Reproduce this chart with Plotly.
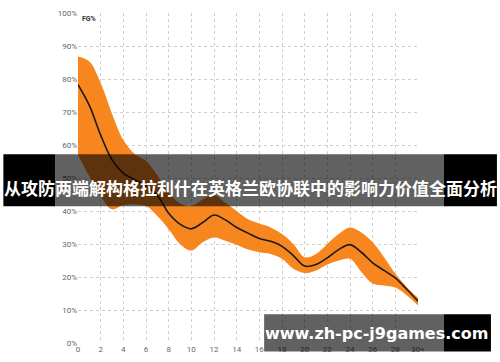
import plotly.graph_objects as go

# ---- data ----
shot_x = list(range(0, 31))
x_tick_vals = list(range(0, 31, 2))
x_tick_text = [str(v) for v in range(0, 29, 2)] + ["30+"]
y_tick_vals = list(range(0, 101, 10))
y_tick_text = [f"{v}%" for v in y_tick_vals]

fg_mean = [78.3, 72.0, 63.0, 55.5, 51.5, 49.5, 47.5, 44.7, 39.3, 36.0,
           34.6, 36.5, 38.8, 37.3, 35.0, 33.3, 31.7, 30.8, 29.3, 26.5,
           23.3, 23.8, 25.8, 28.3, 29.8, 27.5, 24.3, 22.0, 19.7, 16.3, 12.7]
fg_upper = [86.8, 85.3, 78.8, 69.5, 61.5, 57.3, 55.2, 50.8, 45.5, 42.3,
            41.5, 43.5, 44.8, 42.5, 40.0, 37.5, 36.2, 35.0, 33.0, 30.0,
            26.0, 27.0, 30.0, 33.0, 35.0, 33.5, 30.5, 26.0, 21.0, 17.0, 13.7]
fg_lower = [57.0, 50.5, 44.5, 40.5, 41.8, 42.0, 41.5, 38.5, 34.5, 30.0,
            28.0, 30.5, 32.0, 31.0, 29.8, 28.3, 27.5, 27.0, 25.5, 22.5,
            21.2, 22.0, 23.8, 25.0, 25.5, 21.5, 18.0, 17.4, 16.8, 14.5, 11.4]

title_text = "从攻防两端解构格拉利什在英格兰欧协联中的影响力价值全面分析"
watermark_text = "www.zh-pc-j9games.com"

# ---- layout geometry (pixels) ----
W, H = 500, 362
PL, PR, PT, PB = 77.7, 418.0, 8.3, 344.3


def px(xp):
    return (xp - PL) / (PR - PL)


def py(yp):
    return (PB - yp) / (PB - PT)


ORANGE = "#f7861f"

fig = go.Figure()
fig.add_trace(go.Scatter(x=shot_x, y=fg_lower, mode="lines",
                         line=dict(width=0, shape="spline", color=ORANGE),
                         hoverinfo="skip", showlegend=False))
fig.add_trace(go.Scatter(x=shot_x, y=fg_upper, mode="lines",
                         line=dict(width=0, shape="spline", color=ORANGE),
                         fill="tonexty", fillcolor=ORANGE,
                         hoverinfo="skip", showlegend=False))
fig.add_trace(go.Scatter(x=shot_x, y=fg_mean, mode="lines",
                         line=dict(width=1.6, shape="spline", color="#1a1a1a"),
                         showlegend=False))


def rect(x0, x1, y0, y1, color):
    return dict(type="rect", xref="paper", yref="paper",
                x0=px(x0), x1=px(x1), y0=py(y1), y1=py(y0),
                fillcolor=color, line=dict(width=0), layer="above")


shapes = [
    # title band: black outside the chart image, translucent over it
    rect(3, 55, 152, 205, "black"),
    rect(55, 444, 152, 205, "rgba(0,0,0,0.62)"),
    rect(444, 497, 152, 205, "black"),
    # watermark band
    rect(264, 444, 315, 353, "rgba(0,0,0,0.62)"),
    rect(444, 491, 315, 353, "black"),
]

annotations = [
    dict(text="<b>FG%</b>", xref="paper", yref="paper", x=px(80), y=py(14),
         xanchor="left", yanchor="middle", showarrow=False,
         font=dict(family="Roboto", size=7, color="#333")),
    dict(text="<b>" + title_text + "</b>", xref="paper", yref="paper",
         x=px(250), y=py(186), xanchor="center", yanchor="middle", showarrow=False,
         font=dict(family="Noto Sans CJK SC", size=17, color="white")),
    dict(text="<b>" + watermark_text + "</b>", xref="paper", yref="paper",
         x=px(376), y=py(335), xanchor="center", yanchor="middle", showarrow=False,
         font=dict(family="DejaVu Sans", size=16, color="white")),
]

fig.update_layout(
    width=W, height=H,
    margin=dict(l=PL, r=W - PR, t=PT, b=H - PB, pad=0),
    paper_bgcolor="white", plot_bgcolor="white",
    shapes=shapes, annotations=annotations,
    xaxis=dict(range=[0, 30], tickvals=x_tick_vals, ticktext=x_tick_text,
               showgrid=True, gridcolor="#cfcfcf", griddash="dot", gridwidth=1,
               zeroline=False, showline=False, ticks="",
               tickfont=dict(family="Roboto", size=8, color="#666")),
    yaxis=dict(range=[0, 100], tickvals=y_tick_vals, ticktext=y_tick_text,
               showgrid=True, gridcolor="#cfcfcf", griddash="dot", gridwidth=1,
               zeroline=False, showline=False, ticks="",
               tickfont=dict(family="Roboto", size=8, color="#666")),
)

fig.write_html("out.html")
